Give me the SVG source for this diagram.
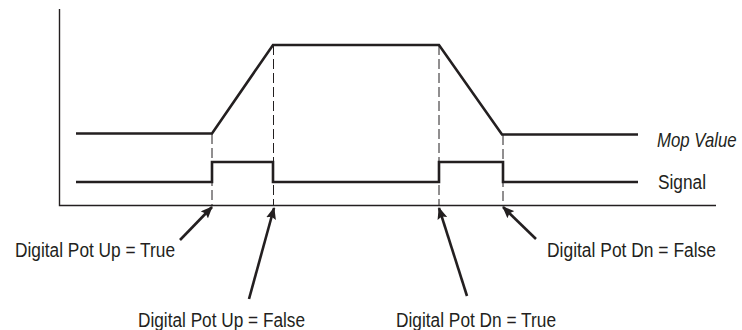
<svg xmlns="http://www.w3.org/2000/svg" width="742" height="330" viewBox="0 0 742 330">
<style>
.axis{stroke:#231f20;stroke-width:1.4;fill:none}
.sig{stroke:#231f20;stroke-width:2.6;fill:none;stroke-linejoin:miter}
.dash{stroke:#231f20;stroke-width:1;fill:none;stroke-dasharray:10 4}
.arr{stroke:#231f20;stroke-width:2.6;fill:none;marker-end:url(#ah)}
text{font-family:"Liberation Sans",Arial,sans-serif;font-size:20px;fill:#231f20}
</style>
<defs>
<marker id="ah" viewBox="0 0 12 10" refX="11" refY="5" markerWidth="12" markerHeight="10" markerUnits="userSpaceOnUse" orient="auto">
<path d="M0,0 L12,5 L0,10 L2,5 Z" fill="#231f20"/>
</marker>
</defs>
<g id="axes">
<path class="axis" d="M59.5,9 V205.5 H716"/>
</g>
<g id="mop-value">
<path class="sig" d="M76,133.5 H212 L273,45 H439 L502,134.5 H638"/>
<text transform="translate(657,147) scale(0.84,1)" x="0" y="0" font-style="italic">Mop Value</text>
</g>
<g id="signal">
<path class="sig" d="M76,182 H212 V162 H273 V182 H439 V162 H503 V182 H638"/>
<text x="658" y="189" textLength="48" lengthAdjust="spacingAndGlyphs">Signal</text>
</g>
<g id="guides">
<line class="dash" x1="212" y1="134" x2="212" y2="205"/>
<line class="dash" x1="273.5" y1="45" x2="273.5" y2="205"/>
<line class="dash" x1="439" y1="45" x2="439" y2="205"/>
<line class="dash" x1="503" y1="135" x2="503" y2="205"/>
</g>
<g id="connectors">
<line class="arr" x1="180" y1="240" x2="212" y2="207"/>
<line class="arr" x1="249" y1="299" x2="274" y2="208"/>
<line class="arr" x1="467" y1="296" x2="439" y2="208"/>
<line class="arr" x1="536" y1="239" x2="503" y2="207"/>
</g>
<g id="label-up-true"><text x="15" y="257" textLength="160" lengthAdjust="spacingAndGlyphs">Digital Pot Up = True</text></g>
<g id="label-up-false"><text x="138" y="327" textLength="167" lengthAdjust="spacingAndGlyphs">Digital Pot Up = False</text></g>
<g id="label-dn-true"><text x="396" y="327" textLength="160" lengthAdjust="spacingAndGlyphs">Digital Pot Dn = True</text></g>
<g id="label-dn-false"><text x="547" y="257" textLength="169" lengthAdjust="spacingAndGlyphs">Digital Pot Dn = False</text></g>
</svg>
